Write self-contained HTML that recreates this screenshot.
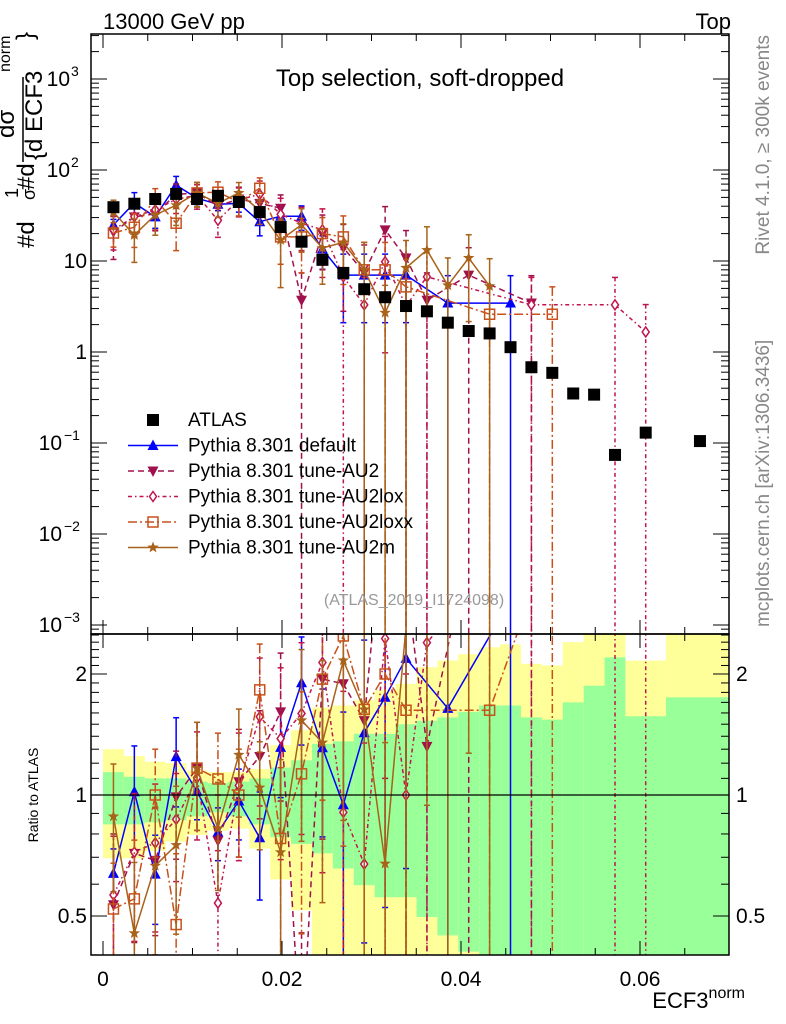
<!DOCTYPE html>
<html><head><meta charset="utf-8"><style>
html,body{margin:0;padding:0;background:#fff;}
svg{display:block;font-family:"Liberation Sans",sans-serif;}
</style></head><body>
<svg id="chart" width="786" height="1024" viewBox="0 0 786 1024" xmlns="http://www.w3.org/2000/svg">
<defs>
<clipPath id="cm"><rect x="91" y="34" width="638" height="600"/></clipPath>
<clipPath id="cr"><rect x="91" y="634" width="638" height="321"/></clipPath>
</defs>
<g id="bands" clip-path="url(#cr)"></g>
<g id="marks"></g>
<g id="axes"></g>
<text x="103" y="29" font-size="22">13000 GeV pp</text>
<text x="731" y="29" font-size="22" text-anchor="end">Top</text>
<text x="420" y="86" font-size="24" text-anchor="middle">Top selection, soft-dropped</text>
<text x="414" y="605" font-size="16" fill="#999" text-anchor="middle">(ATLAS_2019_I1724098)</text>
<text transform="translate(769,35) rotate(-90)" font-size="19" fill="#888" text-anchor="end">Rivet 4.1.0, ≥ 300k events</text>
<text transform="translate(769,627) rotate(-90)" font-size="19" fill="#888">mcplots.cern.ch [arXiv:1306.3436]</text>
<g font-size="24">
<text transform="translate(34,248) rotate(-90)">#d</text>
<text transform="translate(18,198) rotate(-90)" font-size="18">1</text>
<text transform="translate(35,200) rotate(-90)" font-size="18">σ</text>
<text transform="translate(34,190) rotate(-90)">#d</text>
<text transform="translate(14,138) rotate(-90)">dσ</text>
<line x1="23" y1="162" x2="23" y2="77" stroke="#000" stroke-width="1.5"/>
<text transform="translate(42,160) rotate(-90)">{d ECF3</text>
<text transform="translate(10,72) rotate(-90)" font-size="16">norm</text>
<text transform="translate(33,40) rotate(-90)">}</text>
</g>
<text transform="translate(38,795) rotate(-90)" font-size="14" text-anchor="middle">Ratio to ATLAS</text>
<text x="745" y="1008" font-size="22" text-anchor="end">ECF3<tspan font-size="16" dy="-10">norm</tspan></text>
<g id="legend"></g>
</svg>
<script>
const binEdges=[0,0.002335,0.00467,0.007005,0.00934,0.011675,0.01401,0.016345,0.01868,0.021015,0.02335,0.025685,0.02802,0.030355,0.03269,0.035025,0.03736,0.039695,0.04203,0.044365,0.0467,0.049035,0.05137,0.053705,0.05604,0.058375,0.0629,0.0705];
const atlas=[39,42.6,48,54.6,48,52,44.5,34.5,23.6,16.3,10.3,7.4,4.9,4.0,3.2,2.8,2.1,1.7,1.6,1.13,0.68,0.59,0.35,0.34,0.074,0.13,0.105];
const def=[24.9,43.4,30.5,68,49,42,43,27,31,31,13.5,7.0,7.0,7.0,7.0,null,3.45,null,null,3.45,null,null,null,null,null,null,null];
const defErr=[0.15,0.3,0.25,0.25,0.15,0.15,0.2,0.3,0.25,0.3,0.4,0.7,0.7,0.7,0.7,0,1,0,0,1,0,0,0,0,0,0,0];
const au2=[20.8,30.5,33,54,56,40,48,43,38,3.7,20,14,7.5,22,10.8,3.7,null,7.0,null,null,3.45,null,null,null,null,null,null];
const au2Err=[0.5,0.4,0.35,0.3,0.3,0.3,0.35,0.3,0.4,1,0.6,0.8,1,0.8,1,1,0,1,0,0,1,0,0,0,0,0,0];
const lox=[22,30.7,36.5,47.5,53,28,47,54,32.6,26,22,6.7,3.3,9.8,3.2,6.7,null,null,null,null,3.3,null,null,null,3.3,1.66,null];
const loxErr=[0.4,0.4,0.4,0.3,0.3,0.35,0.35,0.4,0.5,0.5,0.7,1,1,0.9,1,1,0,0,0,0,1,0,0,0,1,1,0];
const loxx=[20.3,23.5,48,26,56,57,44.5,63,18.4,18.4,20,18.4,8,8,5.2,null,null,null,2.6,null,null,2.6,null,null,null,null,null];
const loxxErr=[0.3,0.4,0.3,0.5,0.3,0.3,0.3,0.3,0.5,0.6,0.5,0.7,1,1,1,0,0,0,1,0,0,1,0,0,0,0,0];
const au2m=[34.5,19.3,32,41,56,43,56,36,17,25,13.9,16,8,2.7,8.4,13.2,5.4,10.8,5.3,null,null,null,null,null,null,null,null];
const au2mErr=[0.35,0.5,0.4,0.4,0.3,0.3,0.3,0.3,0.7,0.5,0.6,0.6,1,1,1,0.8,1,0.8,1,0,0,0,0,0,0,0,0];
const yellowHi=[1.30,1.25,1.21,1.20,1.15,1.14,1.14,1.16,1.33,1.45,1.65,1.67,1.72,1.82,1.89,2.08,2.16,2.24,2.33,2.37,2.12,2.10,2.40,2.6,2.6,2.16,2.6];
const greenHi=[1.14,1.11,1.10,1.10,1.08,1.07,1.08,1.10,1.17,1.22,1.34,1.36,1.42,1.42,1.50,1.53,1.56,1.61,1.67,1.67,1.56,1.54,1.70,1.87,2.20,1.57,1.75];
const greenLo=[0.85,0.85,0.86,0.87,0.89,0.91,0.89,0.85,0.79,0.76,0.72,0.66,0.60,0.56,0.56,0.50,0.45,0.41,0.3,0.3,0.3,0.3,0.3,0.3,0.3,0.3,0.3];
const yellowLo=[0.70,0.70,0.73,0.77,0.80,0.82,0.83,0.74,0.62,0.52,0.3,0.3,0.3,0.3,0.3,0.3,0.3,0.3,0.3,0.3,0.43,0.45,0.3,0.3,0.3,0.41,0.3];
const xTicks=[0,0.02,0.04,0.06];
const xTickLabels=["0","0.02","0.04","0.06"];
const yTickExp=[-3,-2,-1,0,1,2,3];
const yTickLabels=["10","10","10","1","10","10","10"];
const yTickSup=["−3","−2","−1","","","2","3"];
const rTicks=[0.5,1,2];
const rTickLabels=["0.5","1","2"];

const NS="http://www.w3.org/2000/svg";
const X=v=>103+v*8950;
const Y=v=>352-91*Math.log10(v);
const R=r=>795-402*Math.log10(r);
const centers=binEdges.slice(0,-1).map((e,i)=>(e+binEdges[i+1])/2);
function mk(tag,attrs,parent){const e=document.createElementNS(NS,tag);for(const k in attrs)e.setAttribute(k,attrs[k]);parent.appendChild(e);return e;}
const bands=document.getElementById('bands');
const marks=document.getElementById('marks');
const axes=document.getElementById('axes');

for(let i=0;i<centers.length;i++){
  const x0=X(binEdges[i]),x1=X(binEdges[i+1]);
  const y=mk('rect',{x:x0,y:R(yellowHi[i]),width:x1-x0,height:R(yellowLo[i])-R(yellowHi[i])+1,fill:'#ffff99'},bands);
  
  
  const g=mk('rect',{x:x0,y:R(greenHi[i]),width:x1-x0,height:R(greenLo[i])-R(greenHi[i])+1,fill:'#99ff99'},bands);
  
  
}
const one=mk('line',{x1:91,x2:729,y1:R(1),y2:R(1),stroke:'#000','stroke-width':1.2},axes);



function marker(type,cx,cy,color,parent){
  let e;
  if(type==='sq') e=mk('rect',{x:cx-6,y:cy-6,width:12,height:12,fill:'#000'},parent);
  else if(type==='tri') e=mk('polygon',{points:`${cx},${cy-6} ${cx-5.5},${cy+4.5} ${cx+5.5},${cy+4.5}`,fill:color},parent);
  else if(type==='tridn') e=mk('polygon',{points:`${cx},${cy+6} ${cx-5.5},${cy-4.5} ${cx+5.5},${cy-4.5}`,fill:color},parent);
  else if(type==='dia') e=mk('polygon',{points:`${cx},${cy-5} ${cx-3.5},${cy} ${cx},${cy+5} ${cx+3.5},${cy}`,fill:'#fff',stroke:color,'stroke-width':1.5},parent);
  else if(type==='osq') e=mk('rect',{x:cx-5,y:cy-5,width:10,height:10,fill:'none',stroke:color,'stroke-width':1.5},parent);
  else if(type==='star'){let p=[];for(let k=0;k<10;k++){const a=-Math.PI/2+k*Math.PI/5,r=k%2?2.5:6;p.push((cx+r*Math.cos(a)).toFixed(1)+','+(cy+r*Math.sin(a)).toFixed(1));}e=mk('polygon',{points:p.join(' '),fill:color},parent);}
  return e;
}
const series=[
 {vals:def,err:defErr,color:'#0000ff',dash:'',m:'tri',name:'pythia-default'},
 {vals:au2,err:au2Err,color:'#a0104c',dash:'6,4',m:'tridn',name:'pythia-au2'},
 {vals:lox,err:loxErr,color:'#c0144e',dash:'4,3,1.5,3',m:'dia',name:'pythia-au2lox'},
 {vals:loxx,err:loxxErr,color:'#c8501c',dash:'9,3,2,3',m:'osq',name:'pythia-au2loxx'},
 {vals:au2m,err:au2mErr,color:'#a8621a',dash:'',m:'star',name:'pythia-au2m'}
];
function drawSeries(s,panel){
  const g=mk('g',{'clip-path':panel==='main'?'url(#cm)':'url(#cr)'},marks);
  
  
  const val=i=>panel==='main'?s.vals[i]:s.vals[i]/atlas[i];
  const Yf=panel==='main'?Y:R;
  const bot=panel==='main'?640:960;
  const pts=[];
  for(let i=0;i<s.vals.length;i++){if(s.vals[i]==null)continue;pts.push(X(centers[i]).toFixed(1)+','+Yf(val(i)).toFixed(1));}
  const pl=mk('polyline',{points:pts.join(' '),fill:'none',stroke:s.color,'stroke-width':1.5,'stroke-dasharray':s.dash},g);
  
  
  for(let i=0;i<s.vals.length;i++){
    if(s.vals[i]==null)continue;
    const v=val(i),e=s.err[i],cx=X(centers[i]);
    const yh=Yf(v*(1+e)),yl=e>=1?bot:Yf(v*(1-e));
    const eb=mk('line',{x1:cx,x2:cx,y1:yh,y2:yl,stroke:s.color,'stroke-width':1.5,'stroke-dasharray':s.dash},g);
    
    
    mk('line',{x1:cx-3,x2:cx+3,y1:yh,y2:yh,stroke:s.color,'stroke-width':1.5},g);
    if(e<1)mk('line',{x1:cx-3,x2:cx+3,y1:yl,y2:yl,stroke:s.color,'stroke-width':1.5},g);
    const mm=marker(s.m,cx,Yf(v),s.color,g);
    
    
  }
}
series.forEach(s=>drawSeries(s,'main'));
series.forEach(s=>drawSeries(s,'ratio'));
const ga=mk('g',{'clip-path':'url(#cm)'},marks);


for(let i=0;i<atlas.length;i++){
  const p=marker('sq',X(centers[i]),Y(atlas[i]),'#000',ga);
  
  
}

const f1=mk('rect',{x:91,y:34,width:638,height:600,fill:'none',stroke:'#000','stroke-width':1.5},axes);


const f2=mk('rect',{x:91,y:634,width:638,height:321,fill:'none',stroke:'#000','stroke-width':1.5},axes);


for(let k=0;k<=14;k++){
  const v=k*0.005,x=X(v);if(x>729)break;
  const L=k%4===0?14:7;
  mk('line',{x1:x,x2:x,y1:955,y2:955-L,stroke:'#000','stroke-width':1},axes);
  mk('line',{x1:x,x2:x,y1:634,y2:634-L,stroke:'#000','stroke-width':1},axes);
  mk('line',{x1:x,x2:x,y1:34,y2:34+L,stroke:'#000','stroke-width':1},axes);
  mk('line',{x1:x,x2:x,y1:634,y2:634+L,stroke:'#000','stroke-width':1},axes);
}
xTicks.forEach((v,i)=>{
  const t=mk('text',{x:X(v),y:986,'font-size':21,'text-anchor':'middle'},axes);
  t.textContent=xTickLabels[i];
  
  
});
for(let e=-4;e<=3;e++){for(let m=1;m<10;m++){
  const v=m*Math.pow(10,e),y=Y(v);if(y<34||y>634)continue;
  const L=m===1?16:8;
  mk('line',{x1:91,x2:91+L,y1:y,y2:y,stroke:'#000','stroke-width':1},axes);
  mk('line',{x1:729,x2:729-L,y1:y,y2:y,stroke:'#000','stroke-width':1},axes);
}}
yTickExp.forEach((e,i)=>{
  const t=mk('text',{x:yTickSup[i]?(yTickSup[i].length>1?62:70):87,y:Y(Math.pow(10,e))+7,'font-size':21,'text-anchor':'end'},axes);
  t.textContent=yTickLabels[i];
  
  
  if(yTickSup[i]){const s=mk('text',{x:yTickSup[i].length>1?64:71,y:Y(Math.pow(10,e))-3,'font-size':14},axes);s.textContent=yTickSup[i];}
});
for(let k=4;k<=25;k++){
  const r=k/10,y=R(r);if(y<634||y>955)continue;
  const L=(r===0.5||r===1||r===2)?16:8;
  mk('line',{x1:91,x2:91+L,y1:y,y2:y,stroke:'#000','stroke-width':1},axes);
  mk('line',{x1:729,x2:729-L,y1:y,y2:y,stroke:'#000','stroke-width':1},axes);
}
rTicks.forEach((r,i)=>{
  const a=mk('text',{x:87,y:R(r)+7,'font-size':21,'text-anchor':'end'},axes);
  a.textContent=rTickLabels[i];
  
  
  const b=mk('text',{x:736,y:R(r)+7,'font-size':21},axes);
  b.textContent=rTickLabels[i];
  
  
});
const leg=document.getElementById('legend');
const legNames=["ATLAS","Pythia 8.301 default","Pythia 8.301 tune-AU2","Pythia 8.301 tune-AU2lox","Pythia 8.301 tune-AU2loxx","Pythia 8.301 tune-AU2m"];
legNames.forEach((n,i)=>{
  const y=420+25.5*i;
  const g=mk('g',{},leg);
  
  
  if(i===0){marker('sq',153,y,'#000',g);}
  else{const s=series[i-1];mk('line',{x1:128,x2:178,y1:y,y2:y,stroke:s.color,'stroke-width':1.5,'stroke-dasharray':s.dash},g);marker(s.m,153,y,s.color,g);}
  const t=mk('text',{x:188,y:y+6,'font-size':19},g);t.textContent=n;
});
</script>
</body></html>
